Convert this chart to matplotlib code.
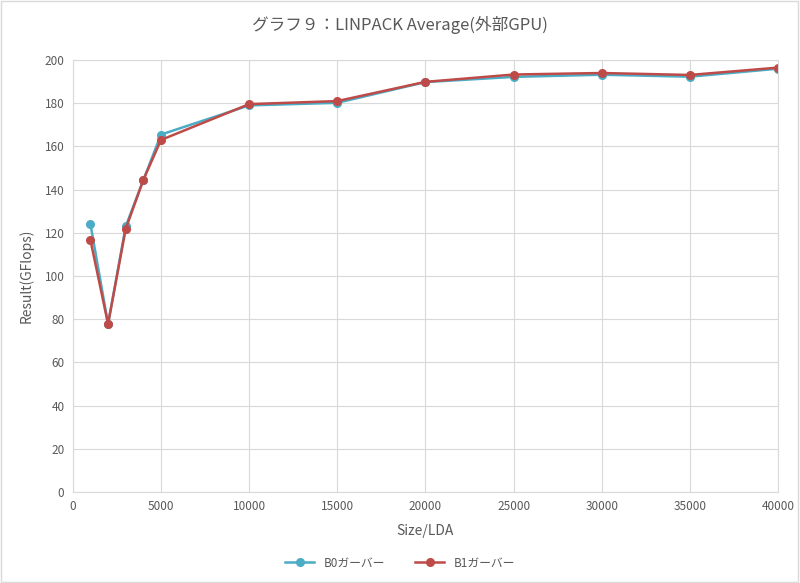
import matplotlib.pyplot as plt
from matplotlib.patches import Rectangle

plt.rcParams['font.family'] = ['Noto Sans CJK JP', 'DejaVu Sans']

sizes = [1000, 2000, 3000, 4000, 5000, 10000, 15000, 20000, 25000, 30000, 35000, 40000]
b0 = [124.1, 77.8, 123.0, 144.4, 165.5, 179.0, 180.2, 189.8, 192.2, 193.2, 192.3, 196.0]
b1 = [116.7, 77.8, 121.8, 144.5, 163.0, 179.6, 181.0, 189.9, 193.3, 194.0, 193.1, 196.5]
labels = ['B0ガーバー', 'B1ガーバー']

txt = '#595959'
fig = plt.figure(figsize=(8, 5.83), dpi=100)
ax = fig.add_axes([0.091, 0.156, 0.8815, 0.741])

ax.plot(sizes, b0, color='#4BACC6', lw=1.8, marker='o', ms=5.5, label=labels[0])
ax.plot(sizes, b1, color='#BE4B48', lw=1.8, marker='o', ms=5.5, label=labels[1])

ax.set_xlim(0, 40000)
ax.set_ylim(0, 200)
ax.set_xticks(range(0, 40001, 5000))
ax.set_yticks(range(0, 201, 20))
ax.grid(True, color='#D9D9D9', lw=0.8)
ax.set_axisbelow(True)
for s in ax.spines.values():
    s.set_color('#D9D9D9')
ax.tick_params(length=0, labelsize=8.5, colors=txt, pad=6)

ax.set_xlabel('Size/LDA', fontsize=10, color=txt, labelpad=8)
ax.set_ylabel('Result(GFlops)', fontsize=10, color=txt, labelpad=8)
fig.suptitle('グラフ９：LINPACK Average(外部GPU)', fontsize=12, color=txt, y=0.972)

fig.legend(loc='lower center', ncol=2, frameon=False, fontsize=8.5,
           labelcolor=txt, bbox_to_anchor=(0.5, 0.005), handlelength=2.5, columnspacing=2.5)

fig.patches.append(Rectangle((0.001, 0.001), 0.997, 0.997, transform=fig.transFigure,
                             fill=False, edgecolor='#D9D9D9', lw=1))

fig.savefig('out.png', dpi=100)
